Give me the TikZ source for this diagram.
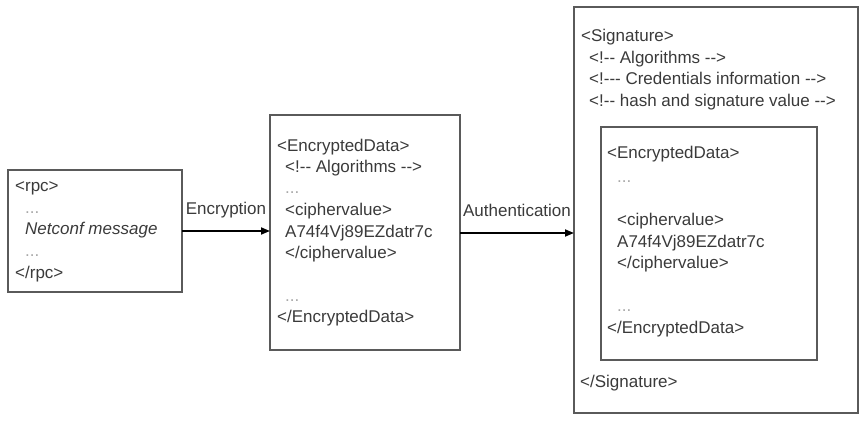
\documentclass[tikz,border=0pt]{standalone}
\usepackage{fontspec}
\setmainfont{Liberation Sans}[Ligatures=TeXOff]
\usetikzlibrary{arrows.meta}
\definecolor{txt}{HTML}{3A3A3A}
\definecolor{dotc}{HTML}{A8A8A8}
\definecolor{frame}{HTML}{5A5A5A}
\begin{document}
\begin{tikzpicture}[x=1pt,y=-1pt,
  box/.style={draw=frame, line width=1.3pt, inner sep=0pt, outer sep=0pt},
  tx/.style={anchor=base west, inner sep=0pt, text=txt, font=\fontsize{17}{21}\selectfont},
  dots/.style={tx, text=dotc},
  lbl/.style={tx, anchor=base},
  conn/.style={-{Triangle[length=9pt,width=7pt]}, line width=1.8pt, black}]
\useasboundingbox (0,0) rectangle (865,435);
% boxes
\node[box, minimum width=174pt, minimum height=122pt] (rpc) at (95,231) {};
\node[box, minimum width=190pt, minimum height=235pt] (enc) at (365,232.5) {};
\node[box, minimum width=284pt, minimum height=406pt] (sig) at (716,210) {};
\node[box, minimum width=216pt, minimum height=233pt] (inner) at (709,243.5) {};
% box 1
\node[tx] (r1) at (15,192) {<rpc>};
\node[dots] (r2) at (25,214) {...};
\node[tx, font=\fontsize{17}{21}\selectfont\itshape] (r3) at (25,235) {Netconf message};
\node[dots] (r4) at (25,257) {...};
\node[tx] (r5) at (15,279) {</rpc>};
% box 2
\node[tx] (e1) at (277,152) {<EncryptedData>};
\node[tx] (e2) at (285,173) {<!-- Algorithms -->};
\node[dots] (e3) at (285,194) {...};
\node[tx] (e4) at (285,216) {<ciphervalue>};
\node[tx] (e5) at (285,238) {A74f4Vj89EZdatr7c};
\node[tx] (e6) at (285,259) {</ciphervalue>};
\node[dots] (e7) at (285,302) {...};
\node[tx] (e8) at (277,323) {</EncryptedData>};
% box 3
\node[tx] (s1) at (581,42) {<Signature>};
\node[tx] (s2) at (589,64) {<!-- Algorithms -->};
\node[tx] (s3) at (589,85) {<!--- Credentials information -->};
\node[tx] (s4) at (589,107) {<!-- hash and signature value -->};
\node[tx] (i1) at (607,159) {<EncryptedData>};
\node[dots] (i2) at (617,183) {...};
\node[tx] (i3) at (617,226) {<ciphervalue>};
\node[tx] (i4) at (617,248) {A74f4Vj89EZdatr7c};
\node[tx] (i5) at (617,269) {</ciphervalue>};
\node[dots] (i6) at (617,312) {...};
\node[tx] (i7) at (607,334) {</EncryptedData>};
\node[tx] (s5) at (580,388) {</Signature>};
% connectors
\draw[conn] (rpc.east) -- (rpc.east -| enc.west);
\path (rpc.east) -- (rpc.east -| enc.west) node[lbl, pos=0.5, yshift=16pt] (lenc) {Encryption};
\coordinate (a2) at ([yshift=-0.5pt]enc.east);
\draw[conn] (a2) -- (a2 -| sig.west);
\path (a2) -- (a2 -| sig.west) node[lbl, pos=0.5, yshift=16pt] (lauth) {Authentication};
\end{tikzpicture}
\end{document}
